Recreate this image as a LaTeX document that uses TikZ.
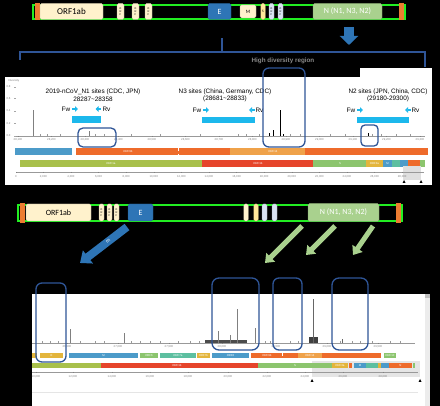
\documentclass[tikz,border=0pt]{standalone}
\usepackage{fontspec}
\setmainfont{Liberation Sans}
\newfontfamily\genefont{Carlito}
\usepackage{tikz}
\usetikzlibrary{calc}
\usetikzlibrary{arrows.meta}

\definecolor{cream}{HTML}{FFF2CC}
\definecolor{eblue}{HTML}{2E75B6}
\definecolor{ngreen}{HTML}{A9D18E}
\definecolor{capor}{HTML}{ED7D31}
\definecolor{barg}{HTML}{22EE22}
\definecolor{boxblue}{HTML}{2F5597}
\definecolor{primer}{HTML}{1CB8EC}
\definecolor{gblue}{HTML}{4C9BC9}
\definecolor{gor}{HTML}{EE6B2B}
\definecolor{glor}{HTML}{EFA24A}
\definecolor{golive}{HTML}{A8C04B}
\definecolor{gred}{HTML}{E6452B}
\definecolor{ggreen}{HTML}{8CC56E}
\definecolor{gyel}{HTML}{E3B53C}
\definecolor{gteal}{HTML}{5DBFA0}
\definecolor{orfblue}{HTML}{DAE3F3}
\definecolor{syel}{HTML}{FFE699}
\definecolor{hdgray}{HTML}{8A8A8A}

\tikzset{
  genebox/.style={draw=#1!75!black, fill=#1, rounded corners=1.5pt, inner sep=0pt, line width=0.3pt},
  orfbox/.style={genebox=#1, minimum width=5pt, minimum height=17pt, font=\fontsize{2.6}{2.9}\selectfont, align=center},
  hotbox/.style={draw=boxblue, line width=1.3pt, rounded corners=5pt},
  ticklab/.style={font=\fontsize{2.8}{3}\selectfont, text=gray},
  genelab/.style={font=\fontsize{2.8}{3}\selectfont, text=white},
  sitelab/.style={font=\fontsize{6.4}{7.6}\selectfont, align=center},
  primarrow/.style={primer, line width=2.2pt, -{Triangle[width=5.5pt,length=3pt]}},
}

\begin{document}
\begin{tikzpicture}[x=1pt,y=-1pt]
    % Background and size
    \fill[black] (0,0) rectangle (440,406);
    \useasboundingbox (0,0) rectangle (440,406);

    \def\ya{136}   % baseline of first diversity plot
    \def\yb{343}   % baseline of second diversity plot

    % Draw top genome bar
    \draw[barg, line width=1.4pt, fill=black] (33,5) rectangle (405,19);
    \fill[capor] (35,3) rectangle (40,20);
    \fill[capor] (399,3) rectangle (404,20);
    \node[genebox=cream, minimum width=63pt, minimum height=16pt, font=\genefont\fontsize{9}{10}\selectfont] (orfab) at (71.5,11.5) {ORF1ab};
    \node[orfbox=cream, minimum width=7pt, minimum height=16pt] (orfa) at (120.5,11.5) {O\\R\\F};
    \node[orfbox=cream, minimum width=7pt, minimum height=16pt] (orfb) at (135.5,11.5) {O\\R\\F};
    \node[orfbox=cream, minimum width=7pt, minimum height=16pt] (orfc) at (148.5,11.5) {O\\R\\F};
    \node[genebox=eblue, minimum width=23pt, minimum height=16pt, text=white, font=\genefont\fontsize{8}{9}\selectfont] (ebox) at (219.5,11.5) {E};
    \node[genebox=cream, minimum width=16pt, minimum height=13pt, font=\genefont\fontsize{5}{6}\selectfont] (mbox) at (248,11.5) {M};
    \node[genebox=syel, minimum width=4.5pt, minimum height=16pt, font=\genefont\fontsize{3.5}{4}\selectfont] (sbox) at (263,11.5) {S};
    \node[orfbox=orfblue, minimum height=16pt] (orfd) at (271.5,11.5) {O\\R\\F};
    \node[orfbox=orfblue, minimum height=16pt] (orfe) at (280.5,11.5) {O\\R\\F};
    \node[genebox=ngreen, minimum width=69pt, minimum height=16pt, text=white, font=\genefont\fontsize{8}{9}\selectfont] (nbox) at (347.5,11.5) {N (N1, N3, N2)};

    % Down arrow and brace
    \coordinate (dnA) at (349,27);
    \coordinate (dnB) at (349,45);
    \draw[eblue, line width=10pt, -{Triangle[width=18pt,length=9pt]}] (dnA) -- (dnB);
    \draw[boxblue, line width=1.2pt] (20,60) -- (20,52) -- (425,52) -- (425,67);
    \draw[boxblue, line width=1.2pt] (222,52) -- (222,38);

    % First panel
    \fill[white] (5,77) rectangle (432,185);
    \fill[white] (360,68) rectangle (432,77);
    \node[text=hdgray, font=\bfseries\fontsize{6.3}{7}\selectfont] (hdlabel) at (283,61) {High diversity region};
    \node[ticklab, anchor=west] (divlab) at (5,80.5) {Diversity};
    \foreach \v/\y in {0.8/87,0.6/98.5,0.4/111,0.2/123.5,0.0/136}
      {\node[ticklab, anchor=east] at (14,\y) {\v}; \draw[gray!70, line width=0.3pt] (14,\y) -- (16,\y);}
    \draw[gray!80, line width=0.5pt] (16,\ya) -- (425,\ya);
    \foreach \x/\l in {18/{28,100},51.5/{28,200},85/{28,300},118.5/{28,400},152/{28,500},185.5/{28,600},219/{28,700},252.5/{28,800},286/{28,900},319.5/{29,000},353/{29,100},386.5/{29,200},420/{29,300}}
      {\draw[gray, line width=0.3pt] (\x,\ya) -- (\x,\ya+1.5); \node[ticklab] at (\x,\ya+4) {\l};}

    % Diversity spikes
    \foreach \x in {40,47,60,95,104,131,160,200,238,246,259,290,300,330,345,372,381,396,410}
      \draw[gray!80, line width=0.4pt] (\x,\ya) -- (\x,\ya-1.5);
    \draw[gray, line width=0.9pt] (33,\ya) -- (33,110);
    \draw[gray, line width=0.6pt] (89,\ya) -- (89,131);
    \draw[black, line width=1pt] (280,\ya) -- (280,110);
    \draw[black, line width=0.8pt] (273,\ya) -- (273,130);
    \draw[black, line width=0.6pt] (269,\ya) -- (269,133.5);
    \draw[black, line width=0.6pt] (283,\ya) -- (283,134);
    \draw[black, line width=0.6pt] (368,\ya) -- (368,133);

    % Primer sites
    \node[sitelab] (nonelab) at (93,95) {2019-nCoV\_N1 sites (CDC, JPN)\\28287\textasciitilde28358};
    \node[sitelab] (nthreelab) at (225,95.5) {N3 sites (China, Germany, CDC)\\(28681\textasciitilde28833)};
    \node[sitelab] (ntwolab) at (388,95.5) {N2 sites (JPN, China, CDC)\\(29180-29300)};

    \node[sitelab] (fwone) at (66,109) {Fw};
    \node[sitelab] (rvone) at (106.5,109) {Rv};
    \draw[primarrow] (72,109) -- (78,109);
    \draw[primarrow] (101,109) -- (95.5,109);
    \fill[primer] (72,116) rectangle (101,123);

    \node[sitelab] (fwthree) at (197,110) {Fw};
    \node[sitelab] (rvthree) at (259.5,110) {Rv};
    \draw[primarrow] (203,110) -- (209,110);
    \draw[primarrow] (254.5,110) -- (249,110);
    \fill[primer] (202,117) rectangle (255,123);

    \node[sitelab] (fwtwo) at (351,110) {Fw};
    \node[sitelab] (rvtwo) at (415.5,110) {Rv};
    \draw[primarrow] (357,110) -- (363,110);
    \draw[primarrow] (410.5,110) -- (405,110);
    \fill[primer] (357,117) rectangle (409,123);

    % Gene tracks
    \fill[gblue] (15,148) rectangle (72,155);
    \fill[gor] (76,148) rectangle (428,155);
    \fill[glor] (230,148) rectangle (305,155);
    \draw[white, dashed, line width=0.3pt] (178,148) -- (178,155);
    \node[genelab] at (128,151.5) {ORF9b};
    \node[genelab] at (273,151.5) {ORF14};

    \fill[golive] (20,160) rectangle (202,167);
    \fill[gred] (202,160) rectangle (313,167);
    \fill[ggreen] (313,160) rectangle (366,167);
    \fill[gyel] (366,160) rectangle (383,167);
    \fill[gblue] (383,160) rectangle (392,167);
    \fill[gteal] (392,160) rectangle (400,167);
    \fill[gblue] (400,160) rectangle (408,167);
    \fill[gor] (408,160) rectangle (420,167);
    \fill[ggreen] (420,160) rectangle (425,167);
    \node[genelab] at (111,163.5) {ORF1a};
    \node[genelab] at (258,163.5) {ORF1b};
    \node[genelab] at (340,163.5) {S};
    \node[genelab] at (374.5,163.5) {ORF3a};
    \node[genelab] at (387.5,163.5) {M};
    \fill[gray!25] (403,166) rectangle (421,180);
    \draw[gray!80, line width=0.4pt] (16,172) -- (424,172);
    \foreach \x/\l in {15.8/0,43.4/{2,000},71/{4,000},98.6/{6,000},126.2/{8,000},153.8/{10,000},181.4/{12,000},209/{14,000},236.6/{16,000},264.2/{18,000},291.8/{20,000},319.4/{22,000},347/{24,000},374.6/{26,000},402.2/{28,000}}
      {\draw[gray, line width=0.3pt] (\x,172) -- (\x,173.5); \node[ticklab] at (\x,176.5) {\l};}
    \fill (404,180) -- (402.5,183) -- (405.5,183) -- cycle;
    \fill (421,180) -- (419.5,183) -- (422.5,183) -- cycle;

    % High diversity boxes
    \draw[hotbox] (78,128) rectangle (116,147);
    \draw[hotbox, rounded corners=6pt] (263,68) rectangle (305,147);
    \draw[hotbox, rounded corners=4pt] (361,125) rectangle (378,146);

    % Draw second genome bar
    \draw[barg, line width=1.4pt, fill=black] (18,205) rectangle (402,221);
    \fill[capor] (20,203) rectangle (25,223);
    \fill[capor] (396,203) rectangle (401,223);
    \node[genebox=cream, minimum width=65pt, minimum height=17pt, font=\genefont\fontsize{8}{9}\selectfont] (orfabtwo) at (58.5,212.5) {ORF1ab};
    \node[orfbox=cream] (orfatwo) at (101.5,212.5) {O\\R\\F};
    \node[orfbox=cream] (orfbtwo) at (109.5,212.5) {O\\R\\F};
    \node[orfbox=cream] (orfctwo) at (116.5,212.5) {O\\R\\F};
    \node[genebox=eblue, minimum width=25pt, minimum height=17pt, text=white, font=\genefont\fontsize{8}{9}\selectfont] (eboxtwo) at (140.5,212.5) {E};
    \node[genebox=cream, minimum width=4.5pt, minimum height=17pt] (mboxtwo) at (246,212.5) {};
    \node[genebox=syel, minimum width=4.5pt, minimum height=17pt] (sboxtwo) at (256,212.5) {};
    \node[genebox=orfblue, minimum width=5pt, minimum height=17pt] (orfdtwo) at (264.5,212.5) {};
    \node[genebox=orfblue, minimum width=5pt, minimum height=17pt] (orfetwo) at (274.5,212.5) {};
    \node[genebox=ngreen, minimum width=71pt, minimum height=18pt, text=white, font=\genefont\fontsize{8}{9}\selectfont] (nboxtwo) at (343.5,212.5) {N (N1, N3, N2)};

    % Draw block arrows
    \coordinate (bluA) at (127,227);
    \coordinate (bluB) at (80,263);
    \draw[eblue, line width=8pt, -{Triangle[width=16pt,length=10pt]}] (bluA) -- (bluB)
      node[pos=0.4, sloped, text=white, font=\fontsize{5}{6}\selectfont] {m};
    \coordinate (grnA) at (302,226);
    \coordinate (grnB) at (265,263);
    \coordinate (grnC) at (335,226);
    \coordinate (grnD) at (306,255);
    \coordinate (grnE) at (373,226);
    \coordinate (grnF) at (353,255);
    \draw[ngreen, line width=5pt, -{Triangle[width=12pt,length=8pt]}] (grnA) -- (grnB);
    \draw[ngreen, line width=5pt, -{Triangle[width=12pt,length=8pt]}] (grnC) -- (grnD);
    \draw[ngreen, line width=5pt, -{Triangle[width=12pt,length=8pt]}] (grnE) -- (grnF);

    % Second panel
    \fill[white] (32,294) rectangle (430,406);
    \fill[gray!15] (425,294) rectangle (430,406);
    \fill[gray!50] (425,294) rectangle (430,298);
    \draw[gray!80, line width=0.5pt] (32,\yb) -- (415,\yb);
    \foreach \x/\l in {67/{26,500},118/{27,000},169/{27,500},222/{28,000},276/{28,500},327/{29,000},378/{29,500}}
      {\draw[gray, line width=0.3pt] (\x,\yb) -- (\x,\yb+1.5); \node[ticklab] at (\x,\yb+4) {\l};}
    \foreach \x in {42,50,58,80,95,104,131,140,150,160,178,190,199,265,270,290,298,340,352,360,372,390,400}
      \draw[gray!80, line width=0.4pt] (\x,\yb) -- (\x,\yb-1.5);
    \draw[gray, line width=0.6pt] (70,\yb) -- (70,329);
    \draw[gray, line width=0.6pt] (124,\yb) -- (124,333);
    \fill[black!70] (205,340.5) rectangle (247,\yb);
    \draw[gray, line width=0.6pt] (218,\yb) -- (218,331);
    \draw[gray, line width=0.6pt] (230,\yb) -- (230,335);
    \draw[gray, line width=0.7pt] (237,\yb) -- (237,309);
    \draw[gray, line width=0.7pt] (255,\yb) -- (255,328);
    \fill[black!75] (309,337) rectangle (318,\yb);
    \draw[gray!80!black, line width=1.2pt] (313.5,\yb) -- (313.5,299);
    \draw[gray!80!black, line width=0.6pt] (342,\yb) -- (342,339);

    % Gene tracks of second panel
    \fill[gyel] (32,353) rectangle (37,358);
    \fill[gyel] (40,353) rectangle (63,358);
    \fill[gblue] (69,353) rectangle (138,358);
    \fill[ggreen] (140,353) rectangle (158,358);
    \fill[gteal] (160,353) rectangle (196,358);
    \fill[gyel] (197,353) rectangle (210,358);
    \fill[gblue] (212,353) rectangle (249,358);
    \fill[gor] (251,353) rectangle (381,358);
    \fill[glor] (298,353) rectangle (322,358);
    \draw[white, dashed, line width=0.3pt] (282,353) -- (282,358);
    \fill[ggreen] (384,353) rectangle (396,358);
    \node[genelab] at (51.5,355.5) {E};
    \node[genelab] at (103.5,355.5) {M};
    \node[genelab] at (149,355.5) {ORF6};
    \node[genelab] at (178,355.5) {ORF7a};
    \node[genelab] at (203.5,355.5) {ORF7b};
    \node[genelab] at (230.5,355.5) {ORF8};
    \node[genelab] at (267,355.5) {ORF9b};
    \node[genelab] at (310,355.5) {ORF14};
    \node[genelab] at (390,355.5) {ORF10};

    \fill[gray!20] (312,361) rectangle (420,377);
    \fill[golive] (32,363) rectangle (101,368);
    \fill[gred] (101,363) rectangle (258,368);
    \fill[ggreen] (258,363) rectangle (332,368);
    \fill[gyel] (332,363) rectangle (348,368);
    \fill[gor] (349,363) rectangle (352,368);
    \fill[gblue] (354,363) rectangle (366,368);
    \fill[gteal] (366,363) rectangle (378,368);
    \fill[gyel] (378,363) rectangle (380.5,368);
    \fill[gblue] (381,363) rectangle (389,368);
    \fill[gor] (389,363) rectangle (412,368);
    \fill[ggreen] (413,363) rectangle (415,368);
    \node[genelab] at (177,365.5) {ORF1b};
    \node[genelab] at (295,365.5) {S};
    \node[genelab] at (340,365.5) {ORF3a};
    \node[genelab] at (360,365.5) {M};
    \node[genelab] at (400.5,365.5) {N};
    \draw[gray!80, line width=0.4pt] (32,372) -- (418,372);
    \foreach \x/\l in {36/{10,000},73/{12,000},112/{14,000},150/{16,000},188/{18,000},228/{20,000},267/{22,000},305/{24,000},343/{26,000},383/{28,000}}
      {\draw[gray, line width=0.3pt] (\x,372) -- (\x,373.5); \node[ticklab] at (\x,376.5) {\l};}
    \fill (312,379) -- (310.5,382) -- (313.5,382) -- cycle;
    \fill (420,379) -- (418.5,382) -- (421.5,382) -- cycle;
    \draw[gray!20, line width=0.5pt] (32,392) -- (418,392);

    % High diversity boxes of second panel
    \draw[hotbox, rounded corners=6pt] (36,283) rectangle (66,362);
    \draw[hotbox, rounded corners=7pt] (212,278) rectangle (259,350);
    \draw[hotbox, rounded corners=6pt] (273,278) rectangle (302,350);
    \draw[hotbox, rounded corners=7pt] (332,278) rectangle (368,350);
\end{tikzpicture}
\end{document}
